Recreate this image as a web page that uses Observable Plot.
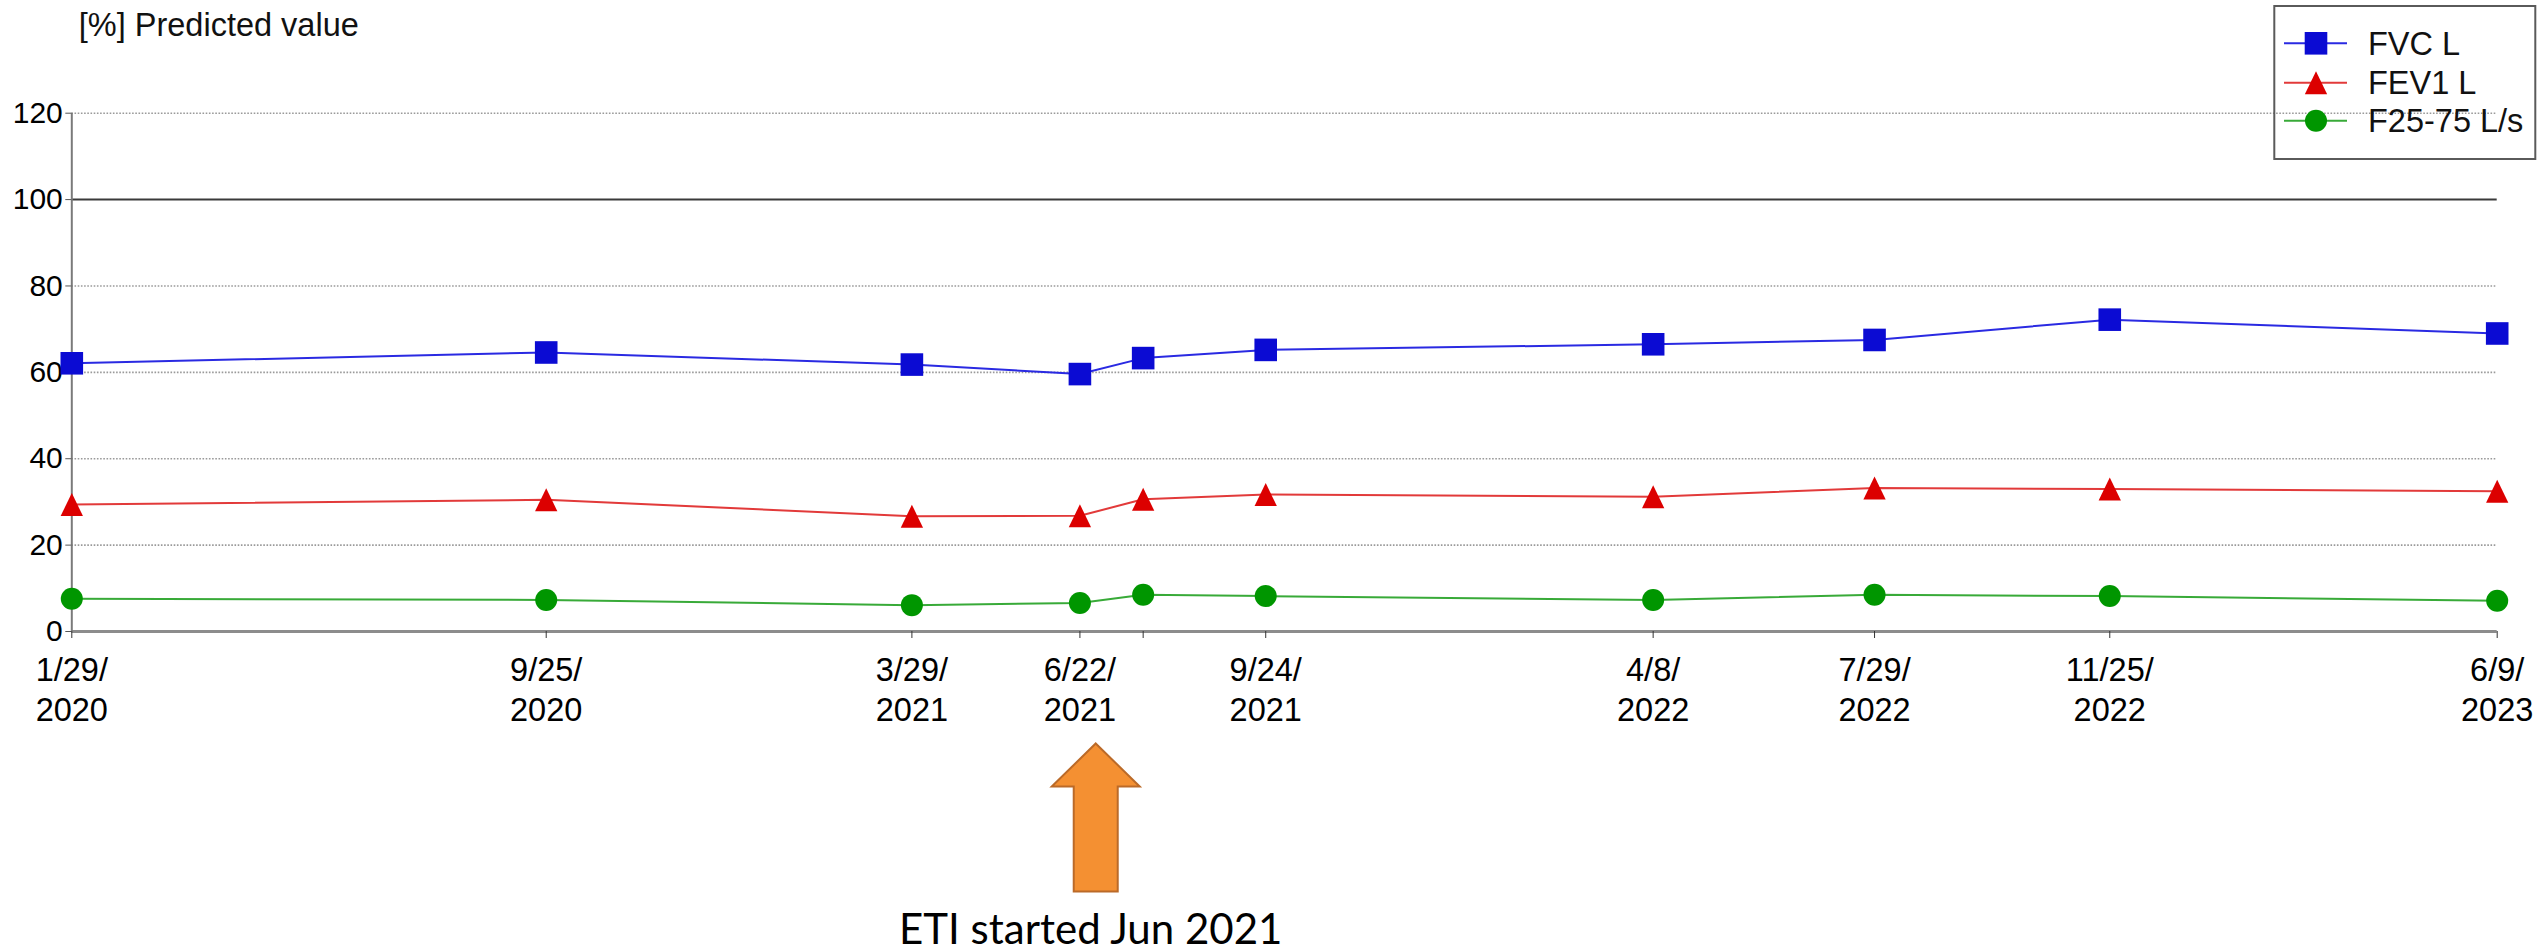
<!DOCTYPE html>
<html>
<head>
<meta charset="utf-8">
<script src="https://cdn.jsdelivr.net/npm/d3@7"></script>
<script src="https://cdn.jsdelivr.net/npm/@observablehq/plot@0.6"></script>
<style>
  html, body { margin: 0; padding: 0; background: #fff; }
  #chart { position: relative; width: 2542px; height: 949px; }
</style>
</head>
<body>
<div id="chart"></div>
<script>
// Spirometry visits (percent of predicted)
const visitDates = ["2020-01-29", "2020-09-25", "2021-03-29", "2021-06-22", "2021-07-24",
                    "2021-09-24", "2022-04-08", "2022-07-29", "2022-11-25", "2023-06-09"];
const dateLabels = ["1/29/\n2020", "9/25/\n2020", "3/29/\n2021", "6/22/\n2021", "",
                    "9/24/\n2021", "4/8/\n2022", "7/29/\n2022", "11/25/\n2022", "6/9/\n2023"];
const fvcPct   = [62.1, 64.6, 61.8, 59.6, 63.3, 65.2, 66.5, 67.5, 72.2, 69.0];
const fev1Pct  = [29.4, 30.5, 26.7, 26.8, 30.6, 31.7, 31.2, 33.2, 33.0, 32.5];
const f2575Pct = [7.6, 7.3, 6.1, 6.6, 8.5, 8.2, 7.3, 8.5, 8.2, 7.1];
const seriesNames = ["FVC L", "FEV1 L", "F25-75 L/s"];
const yTicks = [0, 20, 40, 60, 80, 100, 120];
const dottedGrid = [20, 40, 60, 80, 120];
const refLine = [100];
const axisTitle = "[%] Predicted value";
const etiStart = "2021-06-30";
const etiLabel = "ETI started Jun 2021";

const parse = d3.utcParse("%Y-%m-%d");
const dates = visitDates.map(parse);
const labelOf = new Map(dates.map((d, i) => [+d, dateLabels[i]]));

const lineColors = ["#2a2ae2", "#e23a3a", "#38aa38"];
const markColors = ["#0b0bd3", "#dc0000", "#009600"];

// marker shapes
const squareSym = {draw(ctx, size) { const s = Math.sqrt(size / Math.PI); ctx.rect(-s, -s, 2 * s, 2 * s); }};
const triangleSym = {draw(ctx, size) {
  const s = Math.sqrt(size / Math.PI);
  ctx.moveTo(0, -s); ctx.lineTo(0.97 * s, s); ctx.lineTo(-0.97 * s, s); ctx.closePath();
}};
const circleSym = {draw(ctx, size) { const s = Math.sqrt(size / Math.PI); ctx.moveTo(s, 0); ctx.arc(0, 0, s, 0, 2 * Math.PI); }};
const symbols = [squareSym, triangleSym, circleSym];
const sizes = [11.3, 11.5, 11];

// block arrow pointing up, drawn below the axis
const arrowSym = {draw(ctx) {
  ctx.moveTo(0, 112); ctx.lineTo(44, 155); ctx.lineTo(22, 155); ctx.lineTo(22, 260);
  ctx.lineTo(-22, 260); ctx.lineTo(-22, 155); ctx.lineTo(-44, 155); ctx.closePath();
}};

const series = [fvcPct, fev1Pct, f2575Pct].map((vals, k) =>
  dates.map((d, i) => ({date: d, value: vals[i], name: seriesNames[k]})));

const fontFamily = "'Liberation Sans', Arial, sans-serif";

const marks = [
  Plot.gridY(dottedGrid, {stroke: "#9a9a9a", strokeOpacity: 1, strokeWidth: 1.6, strokeDasharray: "1.6,1.6"}),
  Plot.ruleY(refLine, {stroke: "#3a3a3a", strokeWidth: 2}),
  Plot.ruleY([0], {stroke: "#8c8c8c", strokeWidth: 3}),
  Plot.ruleX([dates[0]], {stroke: "#7a7a7a", strokeWidth: 2}),
  Plot.axisY({ticks: yTicks, tickSize: 6, tickPadding: 3, fontSize: 30, label: null, stroke: "#555"}),
  Plot.axisX({ticks: dates, tickFormat: d => labelOf.get(+d) ?? "", tickSize: 7, tickPadding: 14,
              lineHeight: 1.23, fontSize: 32.5, label: null, stroke: "#333"}),
];
series.forEach((rows, k) => {
  marks.push(Plot.line(rows, {x: "date", y: "value", stroke: lineColors[k], strokeWidth: 2}));
});
series.forEach((rows, k) => {
  marks.push(Plot.dot(rows, {x: "date", y: "value", symbol: symbols[k], r: sizes[k], fill: markColors[k], stroke: "none"}));
});
marks.push(
  Plot.text([axisTitle], {text: d => d, frameAnchor: "top-left", textAnchor: "start", lineAnchor: "bottom",
                          dx: 7, dy: -77.7, fontSize: 32.5, fill: "#111"}),
  Plot.dot([parse(etiStart)], {x: d => d, frameAnchor: "bottom", symbol: arrowSym, r: 10,
                               fill: "#f49032", stroke: "#bb6a28", strokeWidth: 2}),
  Plot.text([etiLabel], {x: () => parse(etiStart), text: d => d, frameAnchor: "bottom", textAnchor: "middle",
                         lineAnchor: "bottom", dx: -5, dy: 312, fontSize: 42, fontFamily: "Lato, 'Open Sans', sans-serif",
                         fill: "#000", ariaLabel: "eti-caption"})
);

const svg = Plot.plot({
  width: 2542,
  height: 949,
  marginLeft: 71.3,
  marginRight: 45.3,
  marginTop: 112.7,
  marginBottom: 318,
  x: {type: "utc", domain: [dates[0], dates[dates.length - 1]]},
  y: {domain: [0, 120]},
  style: {fontFamily, fontSize: "31px", color: "#000", background: "#fff", overflow: "visible"},
  marks
});

// fit caption to its width
d3.select(svg).selectAll('g[aria-label="eti-caption"] text')
  .attr("textLength", 391).attr("lengthAdjust", "spacingAndGlyphs");

// legend box
const lg = d3.select(svg).append("g")
  .attr("font-family", fontFamily).attr("font-size", 32.5).attr("text-anchor", "start");
lg.append("rect").attr("x", 2274.3).attr("y", 6).attr("width", 261).attr("height", 153)
  .attr("fill", "none").attr("stroke", "#5a5a5a").attr("stroke-width", 2);
const rowY = [43.3, 82.7, 120.7];
seriesNames.forEach((name, k) => {
  const g = lg.append("g").attr("transform", `translate(0,${rowY[k]})`);
  g.append("line").attr("x1", 2284).attr("x2", 2347).attr("y1", 0).attr("y2", 0)
    .attr("stroke", lineColors[k]).attr("stroke-width", 2);
  g.append("path").attr("transform", "translate(2316,0)")
    .attr("d", d3.symbol(symbols[k], sizes[k] * sizes[k] * Math.PI)())
    .attr("fill", markColors[k]);
  g.append("text").attr("x", 2368).attr("y", 11.5).attr("text-anchor", "start")
    .attr("fill", "#111").text(name);
});

document.getElementById("chart").appendChild(svg);
</script>
</body>
</html>
